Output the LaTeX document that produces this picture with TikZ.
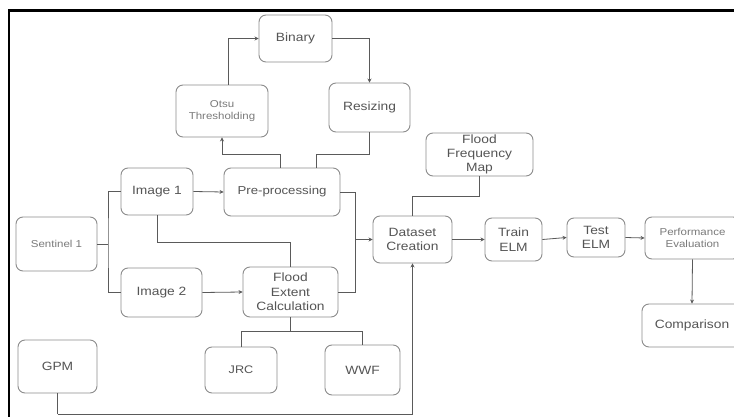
\documentclass[tikz,border=0pt]{standalone}
\usepackage{fontspec}
\setmainfont{Liberation Sans}[FakeStretch=1.15]
\usetikzlibrary{arrows.meta}
\definecolor{boxc}{HTML}{8C8C8C}
\definecolor{linec}{HTML}{5A5A5A}
\definecolor{txtc}{HTML}{555555}
\definecolor{txtl}{HTML}{7A7A7A}
\tikzset{
  box/.style={draw=boxc, line width=0.9pt, rounded corners=7pt, align=center, inner sep=0pt, text=txtc, font=\fontsize{12}{14.5}\selectfont},
  smalltxt/.style={text=txtl, font=\fontsize{10}{12.5}\selectfont},
  conn/.style={draw=linec, line width=0.8pt},
  arr/.style={conn, -{Stealth[length=4pt,width=4pt]}},
}
\begin{document}
\begin{tikzpicture}[x=1pt,y=1pt]
\clip (0,0) rectangle (734,-417);
\fill[white] (0,0) rectangle (734,-417);
% frame
\draw[line width=2.6pt, line cap=rect] (9,-420) -- (9,-10.5) -- (740,-10.5);
% nodes
\node[box, minimum width=73pt, minimum height=47pt] (bin) at (295.5,-38.5) {Binary};
\node[box, smalltxt, minimum width=92pt, minimum height=52pt] (otsu) at (222,-111) {Otsu\\Thresholding};
\node[box, minimum width=81pt, minimum height=49pt] (res) at (369.5,-107.5) {Resizing};
\node[box, minimum width=72pt, minimum height=47pt] (img1) at (157,-191.5) {Image 1};
\node[box, font=\fontsize{11.5}{14}\selectfont, minimum width=116pt, minimum height=48pt] (pre) at (282,-192) {Pre-processing};
\node[box, smalltxt, minimum width=81pt, minimum height=54pt] (sen) at (56.5,-244) {Sentinel 1};
\node[box, minimum width=81pt, minimum height=49pt] (img2) at (161.5,-292.5) {Image 2};
\node[box, minimum width=95pt, minimum height=50pt] (fec) at (290.5,-292) {Flood\\Extent\\Calculation};
\node[box, font=\fontsize{11}{14}\selectfont, minimum width=72pt, minimum height=46pt] (jrc) at (241,-370) {JRC};
\node[box, minimum width=75pt, minimum height=50pt] (wwf) at (362.5,-370) {WWF};
\node[box, minimum width=79pt, minimum height=53pt] (gpm) at (57.5,-366.5) {GPM};
\node[box, minimum width=79pt, minimum height=47pt] (ds) at (412.5,-239.5) {Dataset\\Creation};
\node[box, font=\fontsize{12}{14}\selectfont, minimum width=107pt, minimum height=43pt] (ffm) at (479.5,-154.5) {Flood\\Frequency\\Map};
\node[box, minimum width=57pt, minimum height=43pt] (train) at (513.5,-239.5) {Train\\ELM};
\node[box, minimum width=58pt, minimum height=39pt] (test) at (596,-237.5) {Test\\ELM};
\node[box, smalltxt, minimum width=95pt, minimum height=42pt] (perf) at (692.5,-238) {Performance\\Evaluation};
\node[box, minimum width=100pt, minimum height=43pt] (comp) at (692,-325.5) {Comparison};
% junction coordinates
\coordinate (sj) at (108,-244);
\coordinate (mj) at (355,-239.5);
\coordinate (gb) at (57.5,-414);
% connectors
\draw[arr] ([xshift=6pt]otsu.north) |- (bin.west);
\draw[arr] (bin.east) -| (res.north);
\draw[arr] ([xshift=-2pt]pre.north) -- ++(0,13) -| (otsu.south);
\draw[conn] ([xshift=34pt]pre.north) -- ++(0,13) -| (res.south);
\draw[arr] (img1.east) -- (pre.west);
\draw[conn] (sen.east) -- (sj);
\draw[conn] (img1.west) -| (sj) |- (img2.west);
\draw[arr] (img2.east) -- (fec.west);
\draw[conn] (img1.south) -- ++(0,-26.5) -| (fec.north);
\draw[conn] (fec.south) -- ++(0,-14) coordinate (fj);
\draw[conn] (jrc.north) |- (fj) -| (wwf.north);
\draw[conn] (gpm.south) -- (gb);
\draw[arr] (gb) -| (ds.south);
\draw[conn] (pre.east) -| (mj);
\draw[conn] (fec.east) -| (mj);
\draw[arr] (mj) -- (ds.west);
\draw[conn] (ffm.south) -- ++(0,-20) -| (ds.north);
\draw[arr] (ds.east) -- (train.west);
\draw[arr] (train.east) -- (test.west);
\draw[arr] (test.east) -- (perf.west);
\draw[arr] (perf.south) -- (comp.north);
\end{tikzpicture}
\end{document}
